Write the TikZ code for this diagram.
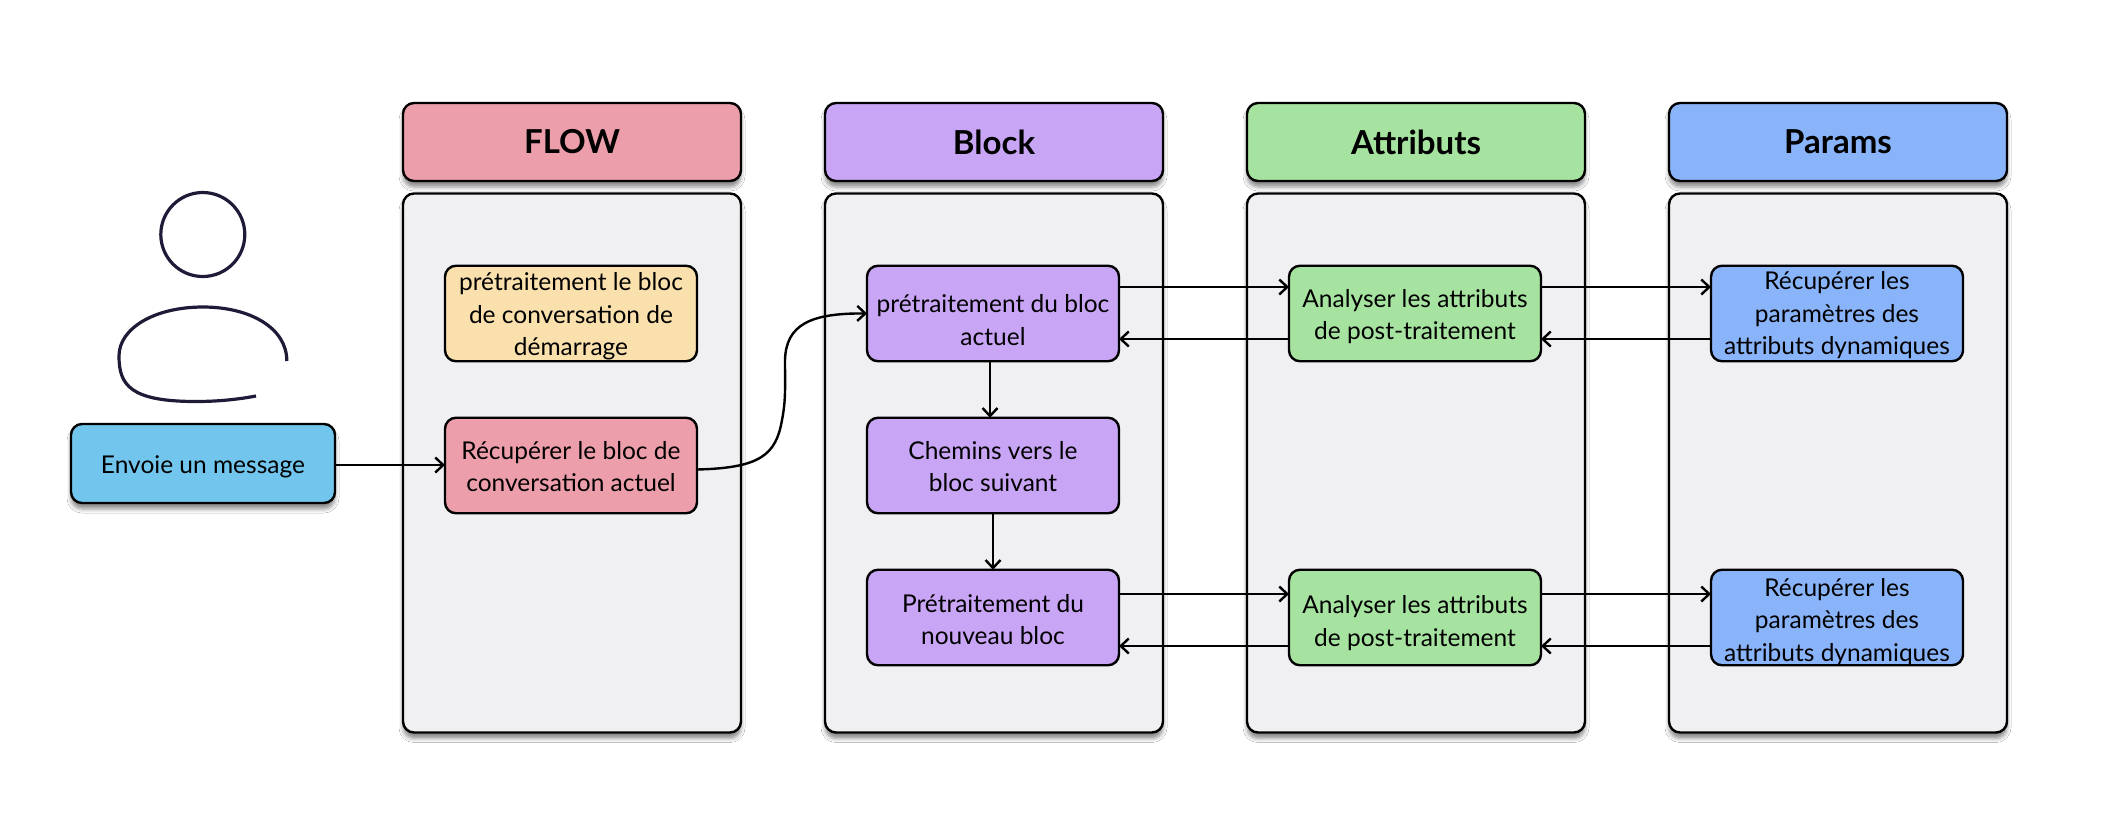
\documentclass[tikz,border=0pt]{standalone}
\usepackage{fontspec}
\setmainfont{Lato}
\usetikzlibrary{arrows.meta,shadows.blur}
\definecolor{cPink}{HTML}{ED9EAB}
\definecolor{cYellow}{HTML}{F9E0AC}
\definecolor{cPurple}{HTML}{C9A5F5}
\definecolor{cGreen}{HTML}{A7E3A0}
\definecolor{cBlue}{HTML}{8AB4FA}
\definecolor{cSky}{HTML}{72C6EE}
\definecolor{cCol}{HTML}{F0F0F3}
\definecolor{cInk}{HTML}{1E1B38}
% node text lowered by #1 without moving or growing its box
\newcommand{\boxtext}[2]{\raisebox{-#1pt}[\dimexpr(\height-\depth)/2\relax][\dimexpr(\depth-\height)/2\relax]{\begin{tabular}{@{}c@{}}#2\end{tabular}}}
\tikzset{
  softshadow/.style={blur shadow={shadow xshift=0pt,shadow yshift=-6pt,shadow blur radius=4pt,shadow opacity=45}},
  box/.style={draw=black,line width=2.4pt,rounded corners=11pt,outer sep=0pt,inner sep=0pt,font=\fontsize{24.5}{32.5}\selectfont},
  inner/.style={box,minimum width=252pt,minimum height=95.5pt},
  header/.style={box,softshadow,minimum width=338pt,minimum height=78pt,font=\fontsize{33}{38}\selectfont\bfseries},
  column/.style={box,softshadow,fill=cCol,minimum width=338pt,minimum height=539pt},
  link/.style={draw=black,line width=2.4pt,-{Straight Barb[length=8pt,width=15pt,line width=2.4pt]}},
  person/.style={draw=cInk,line width=3.2pt}
}
\begin{document}
\begin{tikzpicture}[x=1pt,y=-1pt]
\useasboundingbox[fill=white] (0,0) rectangle (2108,836);
% columns
\node[column] (c1) at (572,463) {};
\node[column] (c2) at (994,463) {};
\node[column] (c3) at (1416,463) {};
\node[column] (c4) at (1838,463) {};
\node[header,fill=cPink] (h1) at (572,142) {FLOW};
\node[header,fill=cPurple] (h2) at (994,142) {Block};
\node[header,fill=cGreen] (h3) at (1416,142) {Attributs};
\node[header,fill=cBlue] (h4) at (1838,142) {Params};
% person
\draw[person] (202.8,234.5) ellipse [x radius=42pt,y radius=42pt];
\draw[person] (286.8,361) .. controls (287,328) and (250,307) .. (203,307)
  .. controls (155,307) and (119,328) .. (119,356)
  .. controls (119,385) and (130,401.5) .. (196,401.5)
  .. controls (220,401.5) and (240,399) .. (256,396);
% message
\node[box,softshadow,fill=cSky,minimum width=264pt,minimum height=79pt] (msg) at (203,463.5) {\boxtext{6.4}{Envoie un message}};
% inner boxes
\node[inner,fill=cYellow] (f1) at (571,313.5) {\boxtext{6.2}{prétraitement le bloc\\de conversation de\\démarrage}};
\node[inner,fill=cPink] (f2) at (571,465.5) {\boxtext{6.7}{Récupérer le bloc de\\conversation actuel}};
\node[inner,fill=cPurple] (b1) at (993,313.5) {\boxtext{12.2}{prétraitement du bloc\\actuel}};
\node[inner,fill=cPurple] (b2) at (993,465.5) {\boxtext{6.7}{Chemins vers le\\bloc suivant}};
\node[inner,fill=cPurple] (b3) at (993,617.5) {\boxtext{7.4}{Prétraitement du\\nouveau bloc}};
\node[inner,fill=cGreen] (a1) at (1415,313.5) {\boxtext{6.7}{Analyser les attributs\\de post-traitement}};
\node[inner,fill=cGreen] (a3) at (1415,617.5) {\boxtext{9}{Analyser les attributs\\de post-traitement}};
\node[inner,fill=cBlue] (p1) at (1837,313.5) {\boxtext{5.4}{Récupérer les\\paramètres des\\attributs dynamiques}};
\node[inner,fill=cBlue] (p3) at (1837,617.5) {\boxtext{8}{Récupérer les\\paramètres des\\attributs dynamiques}};
% connectors
\draw[link] ([yshift=-1.5pt]msg.east) -- ([yshift=0.5pt]f2.west);
\draw[link] ([yshift=-4pt]f2.east) .. controls (760,468) and (776,455) .. (782,420)
  .. controls (786,400) and (785,385) .. (785,360)
  .. controls (786,325) and (810,313) .. (b1.west);
\draw[link] ([xshift=-3pt]b1.south) -- ([xshift=-3pt]b2.north);
\draw[link] (b2.south) -- (b3.north);
\foreach \l/\r in {b1/a1,a1/p1}{
  \draw[link] ([yshift=26.5pt]\l.east) -- ([yshift=26.5pt]\r.west);
  \draw[link] ([yshift=-25.5pt]\r.west) -- ([yshift=-25.5pt]\l.east);
}
\foreach \l/\r in {b3/a3,a3/p3}{
  \draw[link] ([yshift=23.5pt]\l.east) -- ([yshift=23.5pt]\r.west);
  \draw[link] ([yshift=-28.5pt]\r.west) -- ([yshift=-28.5pt]\l.east);
}
\end{tikzpicture}
\end{document}
